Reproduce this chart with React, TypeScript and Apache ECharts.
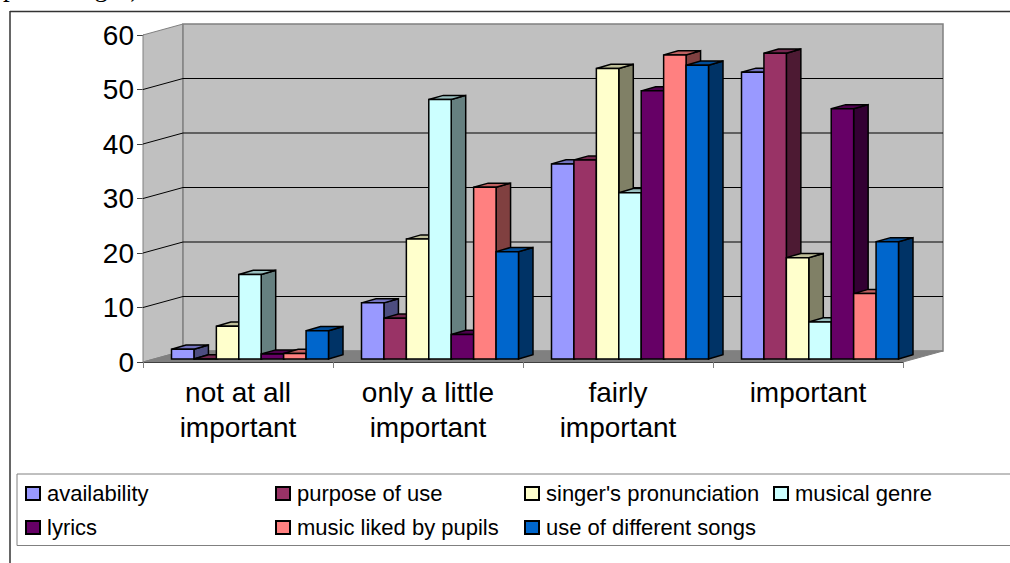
import React, { useEffect, useRef } from "react";
import * as echarts from "echarts";

const categories = ["not at all\nimportant", "only a little\nimportant", "fairly\nimportant", "important"];
const yTicks = [0, 10, 20, 30, 40, 50, 60];

const availability = [1.8, 10.3, 35.8, 52.6];
const purposeOfUse = [0, 7.5, 36.5, 56.1];
const singersPronunciation = [6, 22, 53.3, 18.6];
const musicalGenre = [15.5, 47.6, 30.5, 6.8];
const lyrics = [0.9, 4.5, 49.2, 45.9];
const musicLiked = [1, 31.5, 55.8, 12];
const differentSongs = [5.2, 19.7, 53.9, 21.5];

const seriesList = [
  { name: "availability", values: availability, color: "#9999FF" },
  { name: "purpose of use", values: purposeOfUse, color: "#993366" },
  { name: "singer's pronunciation", values: singersPronunciation, color: "#FFFFCC" },
  { name: "musical genre", values: musicalGenre, color: "#CCFFFF" },
  { name: "lyrics", values: lyrics, color: "#660066" },
  { name: "music liked by pupils", values: musicLiked, color: "#FF8080" },
  { name: "use of different songs", values: differentSongs, color: "#0066CC" },
];

const FONT = "'Liberation Sans', Arial, sans-serif";
const WALL_DX = 40;
const WALL_DY = -11;
const BAR_SHIFT_X = 12;
const BAR_SHIFT_Y = -3;
const BAR_DEPTH_X = 14.5;
const BAR_DEPTH_Y = -4.2;
const BAR_GROUP_SHARE = 157 / 190;

const legendCols = [25, 275, 524, 773];
const legendRows = [482.5, 516.5];

function shade(hex: string, k: number) {
  const n = parseInt(hex.slice(1), 16);
  const c = [(n >> 16) & 255, (n >> 8) & 255, n & 255].map((v) => Math.round(v * k));
  return `rgb(${c[0]},${c[1]},${c[2]})`;
}

function polygon(points: number[][], fill: string, stroke: string, lineWidth: number) {
  return { type: "polygon", shape: { points }, style: { fill, stroke, lineWidth } };
}

// Side wall, back wall, floor and the gridlines running across them.
function renderWalls(params: any, api: any) {
  const { x, width } = params.coordSys;
  const top = api.coord([0, 60])[1];
  const bottom = api.coord([0, 0])[1];
  const right = x + width;
  const children: any[] = [
    polygon([[x, top], [x + WALL_DX, top + WALL_DY], [x + WALL_DX, bottom + WALL_DY], [x, bottom]], "#C0C0C0", "#808080", 1),
    polygon(
      [[x + WALL_DX, top + WALL_DY], [right + WALL_DX, top + WALL_DY], [right + WALL_DX, bottom + WALL_DY], [x + WALL_DX, bottom + WALL_DY]],
      "#C0C0C0",
      "#808080",
      1.5
    ),
    polygon([[x, bottom], [x + WALL_DX, bottom + WALL_DY], [right + WALL_DX, bottom + WALL_DY], [right, bottom]], "#808080", "#808080", 1),
  ];
  yTicks.slice(1, -1).forEach((t) => {
    const y = api.coord([0, t])[1];
    children.push({
      type: "polyline",
      shape: { points: [[x, y], [x + WALL_DX, y + WALL_DY], [right + WALL_DX, y + WALL_DY]] },
      style: { fill: "none", stroke: "#000", lineWidth: 1 },
    });
  });
  return { type: "group", children };
}

// One box per category: front face, top face and right side face.
function renderBar(seriesIndex: number, color: string) {
  return (_params: any, api: any) => {
    const cat = api.value(0);
    const [cx, yTop0] = api.coord([cat, api.value(1)]);
    const yBase0 = api.coord([cat, 0])[1];
    const band = api.size([1, 0])[0];
    const w = (band * BAR_GROUP_SHARE) / seriesList.length;
    const x0 = cx - (band * BAR_GROUP_SHARE) / 2 + BAR_SHIFT_X + seriesIndex * w;
    const x1 = x0 + w;
    const yTop = yTop0 + BAR_SHIFT_Y;
    const yBase = yBase0 + BAR_SHIFT_Y;
    const dx = BAR_DEPTH_X;
    const dy = BAR_DEPTH_Y;
    const lw = 1.5;
    return {
      type: "group",
      children: [
        polygon([[x1, yTop], [x1 + dx, yTop + dy], [x1 + dx, yBase + dy], [x1, yBase]], shade(color, 0.5), "#000", lw),
        polygon([[x0, yTop], [x0 + dx, yTop + dy], [x1 + dx, yTop + dy], [x1, yTop]], shade(color, 0.75), "#000", lw),
        polygon([[x0, yTop], [x1, yTop], [x1, yBase], [x0, yBase]], color, "#000", lw),
      ],
    };
  };
}

export default function App() {
  const ref = useRef<HTMLDivElement>(null);

  useEffect(() => {
    const chart = echarts.init(ref.current!, undefined, { renderer: "svg" });
    chart.setOption({
      animation: false,
      backgroundColor: "#fff",
      grid: { left: 143, top: 35, width: 760, height: 327, containLabel: false },
      xAxis: {
        type: "category",
        data: categories,
        axisLine: { lineStyle: { color: "#000", width: 1 } },
        axisTick: { show: true, length: 6, lineStyle: { color: "#808080" } },
        axisLabel: { color: "#000", fontFamily: FONT, fontSize: 28, lineHeight: 35, margin: 13, interval: 0 },
      },
      yAxis: {
        type: "value",
        min: 0,
        max: 60,
        interval: 10,
        splitLine: { show: false },
        axisLine: { show: true, lineStyle: { color: "#404040", width: 1 } },
        axisTick: { show: true, length: 6, lineStyle: { color: "#404040" } },
        axisLabel: { color: "#000", fontFamily: FONT, fontSize: 28, margin: 9 },
      },
      legend: seriesList.map((s, i) => ({
        show: true,
        data: [s.name],
        left: legendCols[i < 4 ? i : i - 4],
        top: legendRows[i < 4 ? 0 : 1],
        padding: 0,
        itemWidth: 14,
        itemHeight: 13,
        icon: "rect",
        selectedMode: false,
        textStyle: { color: "#000", fontFamily: FONT, fontSize: 22, padding: [0, 0, 0, 2] },
      })),
      graphic: [
        {
          type: "text",
          x: 3,
          y: -13,
          style: { text: "percentages),", fill: "#000", font: "27px 'Liberation Serif', serif", verticalAlign: "middle" },
        },
        { type: "line", shape: { x1: 10, y1: 11.5, x2: 1010, y2: 11.5 }, style: { stroke: "#333", lineWidth: 1.5 } },
        { type: "line", shape: { x1: 10, y1: 11, x2: 10, y2: 563 }, style: { stroke: "#333", lineWidth: 1.5 } },
        { type: "rect", shape: { x: 17, y: 474, width: 1010, height: 71.5 }, style: { fill: "none", stroke: "#808080", lineWidth: 1 } },
      ],
      series: [
        {
          type: "custom",
          name: "walls",
          data: [[0, 0]],
          encode: { x: 0, y: 1 },
          renderItem: renderWalls,
          clip: false,
          silent: true,
          z: 1,
        },
        ...seriesList.map((s, i) => ({
          type: "custom",
          name: s.name,
          data: s.values.map((v, c) => [c, v]),
          encode: { x: 0, y: 1 },
          renderItem: renderBar(i, s.color),
          clip: false,
          itemStyle: { color: s.color, borderColor: "#000", borderWidth: 1.3 },
          z: 2 + i,
        })),
      ],
    });
    return () => chart.dispose();
  }, []);

  return <div ref={ref} style={{ position: "fixed", left: 0, top: 0, width: 1010, height: 563 }} />;
}
